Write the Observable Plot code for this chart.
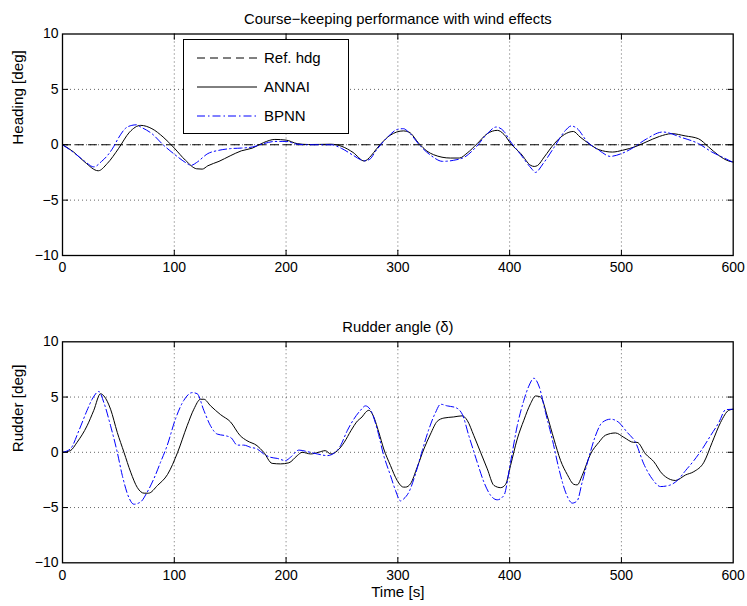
<!DOCTYPE html>
<html><head><meta charset="utf-8">
<script src="https://cdn.jsdelivr.net/npm/d3@7"></script>
<script src="https://cdn.jsdelivr.net/npm/@observablehq/plot@0.6"></script>
<style>
body{margin:0;background:#fff;}
#wrap{position:relative;width:747px;height:606px;font-family:"Liberation Sans",Arial,sans-serif;background:#fff;}
#wrap > svg{position:absolute;left:0;}
#legend{position:absolute;left:183px;top:39px;width:164px;height:93px;border:1.3px solid #000;background:#fff;font-size:15px;}
#legend .row{position:absolute;left:0;height:20px;}
#legend svg{position:absolute;left:13px;top:0;}
#legend span{position:absolute;left:80px;top:1px;white-space:nowrap;}
</style></head><body><div id="wrap"></div>
<script>
// ---- data ----
const xTicks = [0, 100, 200, 300, 400, 500, 600];
const yTicks = [-10, -5, 0, 5, 10];

const refT = [0, 600];
const refHdg = [0, 0];

const hdgAnnaiT = [0,10,20,32,40,50,60,70,80,90,100,110,120,125,130,140,150,160,170,180,190,200,210,220,230,240,250,260,270,276,281,285,293,305,310,319,326,332,347,355,362,371,380,389,395,401,410,419,422,425,431,440,449,457,463,471,480,492,501,513,522,534,545,557,569,578,587,596,600];
const hdgAnnai  = [0,-0.66,-1.57,-2.35,-1.7,-0.36,1.14,1.75,1.45,0.7,-0.3,-1.4,-2.17,-2.2,-1.9,-1.5,-1.0,-0.55,-0.3,0.2,0.48,0.42,0.1,0.02,0.03,0.05,-0.15,-0.7,-1.47,-1.0,-0.36,0.1,0.85,1.25,1.14,0.1,-0.57,-0.9,-1.2,-1.2,-0.75,0.1,1.0,1.3,0.93,0.1,-0.8,-1.87,-1.96,-1.87,-1.1,0.1,0.93,1.2,0.7,0.1,-0.45,-0.66,-0.5,-0.15,0.24,0.75,1.0,0.8,0.54,-0.2,-0.96,-1.47,-1.56];

const hdgBpnnT = [0,10,20,28,35,40,45,50,56,62,66,70,80,90,100,110,115,120,130,140,150,160,170,180,190,200,210,220,240,250,260,270,275,280,290,300,305,310,320,330,340,350,360,370,380,388,395,400,410,420,423,430,440,450,455,460,470,480,490,500,510,522,537,554,569,581,590,600];
const hdgBpnn  = [0,-0.7,-1.5,-2.0,-1.5,-1.0,-0.3,0.6,1.45,1.75,1.8,1.6,1.0,0,-0.85,-1.6,-1.87,-1.6,-0.8,-0.5,-0.35,-0.3,-0.2,0.1,0.3,0.3,0.05,0,0,-0.35,-0.95,-1.45,-1.3,-0.6,0.6,1.4,1.45,1.1,-0.1,-1.0,-1.5,-1.4,-1.1,-0.2,1.0,1.6,1.2,0.4,-0.9,-2.2,-2.5,-1.7,-0.2,1.3,1.7,1.5,0.2,-0.5,-1.05,-0.8,-0.3,0.5,1.15,0.65,0.1,-0.66,-1.1,-1.6];

const rudAnnaiT = [0,7,13,22,28,34,37,43,49,55,61,67,73,77,85,94,103,111.5,117.5,123.5,126.5,132.5,141.5,150.3,159,165,174,180,187.5,195,202.5,210,214.4,222,229,235,240,246,252,258,264,268,271,274,277,283,287.4,293.4,299.4,305,307,311.3,317.3,323.3,329.2,335.2,341.2,350,357.6,362,368,374,380,386,392,396.4,400.8,406.8,412.7,418.7,423.2,427.7,433.6,439.6,445.6,451.5,457.5,460.4,464.9,472.4,479.8,485.8,494.7,502.2,511,514,521.6,529,536.5,548.4,557.4,564.8,573.8,581.2,588.7,596,600];
const rudAnnai  = [0,0.15,0.9,2.4,3.8,5.3,5.1,3.9,1.8,0,-1.8,-3.2,-3.7,-3.7,-3.0,-2.0,0,2.4,3.9,4.8,4.8,4.2,3.4,2.75,1.5,1.05,0.6,0,-1.0,-1.05,-0.95,-0.3,0,-0.15,0,0.15,-0.15,0.15,0.9,1.95,2.85,3.2,3.6,3.8,3.5,1.8,0.3,-1.2,-2.55,-3.15,-3.15,-2.85,-1.35,0.3,1.65,2.8,3.1,3.2,3.3,2.9,1.5,0,-1.5,-3.0,-3.2,-2.9,-1.2,1.2,2.9,4.4,5.1,5.0,3.3,1.2,-0.75,-2.0,-2.9,-2.95,-2.1,-0.15,0.9,1.55,1.75,1.35,0.9,0.9,-0.15,-0.85,-1.95,-2.55,-2.05,-1.75,-0.9,0.9,2.7,3.8,3.9];

const rudBpnnT = [0,7,14.6,22,26.5,32.5,37,43,49,53.5,59.4,63.8,69.8,75.8,81.7,87.7,93.6,101,108.5,116,120.5,126.4,132.4,138.4,145.8,151,156.3,162.2,168.2,174.2,180,186,192,199.5,204,211.5,219,228,236.8,242.7,248.7,254.7,260.6,266.6,271,275.5,281.5,287.4,293.4,297.9,302.4,305.4,309.9,315.8,321.8,327.8,333.7,338.2,344.2,351.6,357.6,363.5,371,377,383,388.9,394.9,400.8,406.8,412.7,417.2,421.7,426.2,432.1,438.1,444.1,450,454.5,456,460.4,464.9,470.9,476.8,482.8,490.3,497.7,505.2,512.6,520,527.5,535,542.5,550,557.4,564.8,572.3,579.7,587.2,593.2,600];
const rudBpnn  = [0,0.3,1.95,3.8,4.8,5.5,4.5,2.4,0,-2.1,-4.1,-4.7,-4.5,-3.6,-2.4,-0.9,0.6,3.0,4.7,5.4,5.3,3.8,2.4,1.65,1.5,1.3,0.65,0.65,0.45,0.3,-0.15,-0.45,-0.55,-0.75,-0.45,0.2,0.06,-0.15,-0.3,-0.1,0.6,1.95,3.0,3.8,4.2,3.85,2.1,-0.3,-2.1,-3.45,-4.4,-4.2,-3.6,-1.95,0.15,2.1,3.6,4.35,4.2,4.05,3.45,1.5,-0.9,-2.7,-3.9,-4.3,-3.9,-0.9,2.4,4.7,6.0,6.7,6.0,3.6,1.2,-1.5,-3.6,-4.5,-4.6,-4.4,-2.7,-0.45,1.5,2.7,3.0,2.7,1.8,0.9,-1.05,-2.4,-3.1,-3.0,-2.55,-1.65,-0.75,0.3,1.5,2.7,3.85,3.9];

const seriesNames = ["Ref. hdg", "ANNAI", "BPNN"];
const titles = ["Course\u2212keeping performance with wind effects", "Rudder angle (\u03b4)"];
const yLabels = ["Heading [deg]", "Rudder [deg]"];
const xLabel = "Time [s]";

// ---- styles ----
const styles = {
  "Ref. hdg": {stroke: "#000", strokeDasharray: "8,5"},
  "ANNAI": {stroke: "#000"},
  "BPNN": {stroke: "#0000ff", strokeDasharray: "8,3,1.5,3"}
};
const FONT = '"Liberation Sans", Arial, sans-serif';
const zip = (T, V) => T.map((t, i) => ({t, v: V[i]}));

function innerTicks() {
  const common = {length: 5, anchor: "start", r: 0, stroke: "#000", strokeWidth: 1};
  const xi = xTicks.slice(1, -1), yi = yTicks.slice(1, -1);
  return [
    Plot.vector(xi, {...common, x: d => d, frameAnchor: "bottom", rotate: 0}),
    Plot.vector(xi, {...common, x: d => d, frameAnchor: "top", rotate: 180}),
    Plot.vector(yi, {...common, y: d => d, frameAnchor: "left", rotate: 90}),
    Plot.vector(yi, {...common, y: d => d, frameAnchor: "right", rotate: -90})
  ];
}

function panel({height, mt, mb, title, ylabel, xlabel, lines}) {
  const marks = [
    Plot.ruleX(xTicks.slice(1, -1), {stroke: "#000", strokeOpacity: 0.6, strokeDasharray: "1,3"}),
    Plot.ruleY(yTicks.slice(1, -1), {stroke: "#000", strokeOpacity: 0.6, strokeDasharray: "1,3"}),
    ...lines.map(([name, data]) => Plot.line(data, {x: "t", y: "v", curve: "monotone-x", strokeWidth: 1, ...styles[name]})),
    Plot.frame({stroke: "#000", strokeWidth: 1.3}),
    ...innerTicks(),
    Plot.axisX({ticks: xTicks, tickSize: 0, tickPadding: 7, tickFormat: d => String(d), label: null, fontSize: 14}),
    Plot.axisY({ticks: yTicks, tickSize: 0, tickPadding: 4, label: null, fontSize: 14}),
    Plot.text([title], {frameAnchor: "top", lineAnchor: "bottom", dy: -10, fontSize: 14.8}),
    Plot.text([ylabel], {frameAnchor: "left", rotate: -90, dx: -44, fontSize: 15.2})
  ];
  if (xlabel) marks.push(Plot.text([xlabel], {frameAnchor: "bottom", lineAnchor: "top", dy: 23, fontSize: 15.2}));
  return Plot.plot({
    width: 747, height,
    marginLeft: 62, marginRight: 14.3, marginTop: mt, marginBottom: mb,
    x: {domain: [0, 600]},
    y: {domain: [-10, 10]},
    style: {fontFamily: FONT, fontSize: "14px", color: "#000", background: "transparent", overflow: "visible"},
    marks
  });
}

const wrap = document.getElementById("wrap");

const topPanel = panel({
  height: 290, mt: 33.5, mb: 35,
  title: titles[0], ylabel: yLabels[0],
  lines: [["Ref. hdg", zip(refT, refHdg)], ["ANNAI", zip(hdgAnnaiT, hdgAnnai)], ["BPNN", zip(hdgBpnnT, hdgBpnn)]]
});
topPanel.style.top = "0px";
wrap.appendChild(topPanel);

const botPanel = panel({
  height: 306, mt: 41.3, mb: 43.7,
  title: titles[1], ylabel: yLabels[1], xlabel: xLabel,
  lines: [["ANNAI", zip(rudAnnaiT, rudAnnai)], ["BPNN", zip(rudBpnnT, rudBpnn)]]
});
botPanel.style.top = "300px";
wrap.appendChild(botPanel);

// legend
const leg = document.createElement("div");
leg.id = "legend";
seriesNames.forEach((name, i) => {
  const row = document.createElement("div");
  row.className = "row";
  row.style.top = (8 + i * 29) + "px";
  row.style.width = "160px";
  const s = styles[name];
  row.innerHTML = `<svg width="62" height="20"><line x1="0" x2="60" y1="10" y2="10" stroke="${s.stroke}" stroke-width="1" ${s.strokeDasharray ? `stroke-dasharray="${s.strokeDasharray}"` : ""}/></svg><span>${name}</span>`;
  leg.appendChild(row);
});
wrap.appendChild(leg);
</script>
</body></html>
